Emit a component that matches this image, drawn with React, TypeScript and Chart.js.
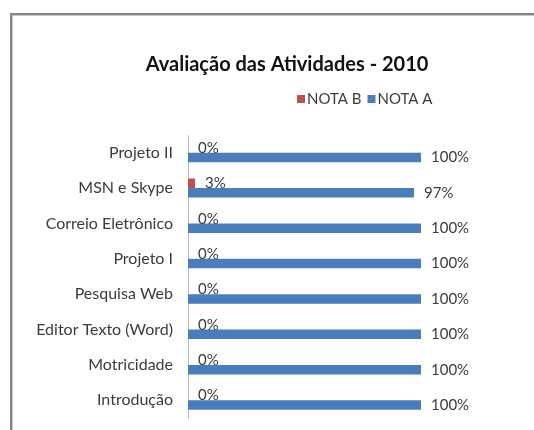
import React, { useEffect, useRef } from "react";
import { Chart, registerables } from "chart.js";

Chart.register(...registerables);

const categories = [
  "Projeto II",
  "MSN e Skype",
  "Correio Eletrônico",
  "Projeto I",
  "Pesquisa Web",
  "Editor Texto (Word)",
  "Motricidade",
  "Introdução",
];
const notaB = [0, 3, 0, 0, 0, 0, 0, 0];
const notaA = [100, 97, 100, 100, 100, 100, 100, 100];
const seriesNames = ["NOTA B", "NOTA A"];
const seriesColors = ["#C0504D", "#4A7EBB"];
const titleText = "Avaliação das Atividades - 2010";

const FONT = "Lato, 'DejaVu Sans', sans-serif";
const TEXT_COLOR = "#3b3b3b";

const labelPlugin = {
  id: "valueLabels",
  afterDatasetsDraw(chart: any) {
    const ctx = chart.ctx;
    ctx.save();
    ctx.font = `15px ${FONT}`;
    ctx.fillStyle = TEXT_COLOR;
    ctx.textAlign = "left";
    ctx.textBaseline = "middle";
    chart.data.datasets.forEach((ds: any, di: number) => {
      const meta = chart.getDatasetMeta(di);
      meta.data.forEach((bar: any, i: number) => {
        ctx.fillText(`${ds.data[i]}%`, bar.x + 10, bar.y);
      });
    });
    ctx.restore();
  },
};

const headerPlugin = {
  id: "header",
  afterDraw(chart: any) {
    const ctx = chart.ctx;
    ctx.save();
    ctx.fillStyle = "#111";
    ctx.font = `bold 20px ${FONT}`;
    ctx.textAlign = "center";
    ctx.textBaseline = "alphabetic";
    ctx.fillText(titleText, 287, 71);
    // legend
    ctx.font = `15px ${FONT}`;
    ctx.textBaseline = "middle";
    ctx.textAlign = "left";
    let x = 297;
    const y = 99;
    seriesNames.forEach((name, i) => {
      ctx.fillStyle = seriesColors[i];
      ctx.fillRect(x, y - 4, 8, 8);
      ctx.fillStyle = TEXT_COLOR;
      ctx.fillText(name, x + 10, y);
      x += 10 + ctx.measureText(name).width + 6;
    });
    ctx.restore();
  },
};

export default function App() {
  const ref = useRef<HTMLCanvasElement | null>(null);
  useEffect(() => {
    if (!ref.current) return;
    const chart = new Chart(ref.current, {
      type: "bar",
      data: {
        labels: categories,
        datasets: [
          {
            label: seriesNames[0],
            data: notaB,
            backgroundColor: seriesColors[0],
            categoryPercentage: 0.54,
            barPercentage: 1,
          },
          {
            label: seriesNames[1],
            data: notaA,
            backgroundColor: seriesColors[1],
            categoryPercentage: 0.54,
            barPercentage: 1,
          },
        ],
      },
      options: {
        indexAxis: "y",
        animation: false,
        responsive: false,
        layout: { padding: { top: 135, bottom: 12, left: 0, right: 113 } },
        plugins: {
          legend: { display: false },
          title: { display: false },
          tooltip: { enabled: false },
        },
        scales: {
          x: { display: false, min: 0, max: 100 },
          y: {
            afterFit(scale: any) {
              scale.width = 188;
              scale.paddingTop = 0;
              scale.paddingBottom = 0;
            },
            grid: { display: false, drawTicks: false },
            border: { display: true, color: "#bfbfbf", width: 1 },
            ticks: {
              padding: 15,
              color: TEXT_COLOR,
              font: { family: FONT, size: 16 },
            },
          },
        },
      },
      plugins: [labelPlugin, headerPlugin],
    });
    return () => chart.destroy();
  }, []);

  return (
    <div style={{ position: "fixed", left: 0, top: 0, width: 534, height: 430, background: "#fff" }}>
      <div
        style={{
          position: "absolute",
          left: 10,
          top: 13,
          width: 540,
          height: 440,
          borderTop: "2px solid #858585",
          borderLeft: "2px solid #858585",
          boxShadow: "inset 1px 1px 0 #c8c8c8",
          boxSizing: "border-box",
        }}
      />
      <canvas ref={ref} width={534} height={430} style={{ position: "absolute", left: 0, top: 0 }} />
    </div>
  );
}
